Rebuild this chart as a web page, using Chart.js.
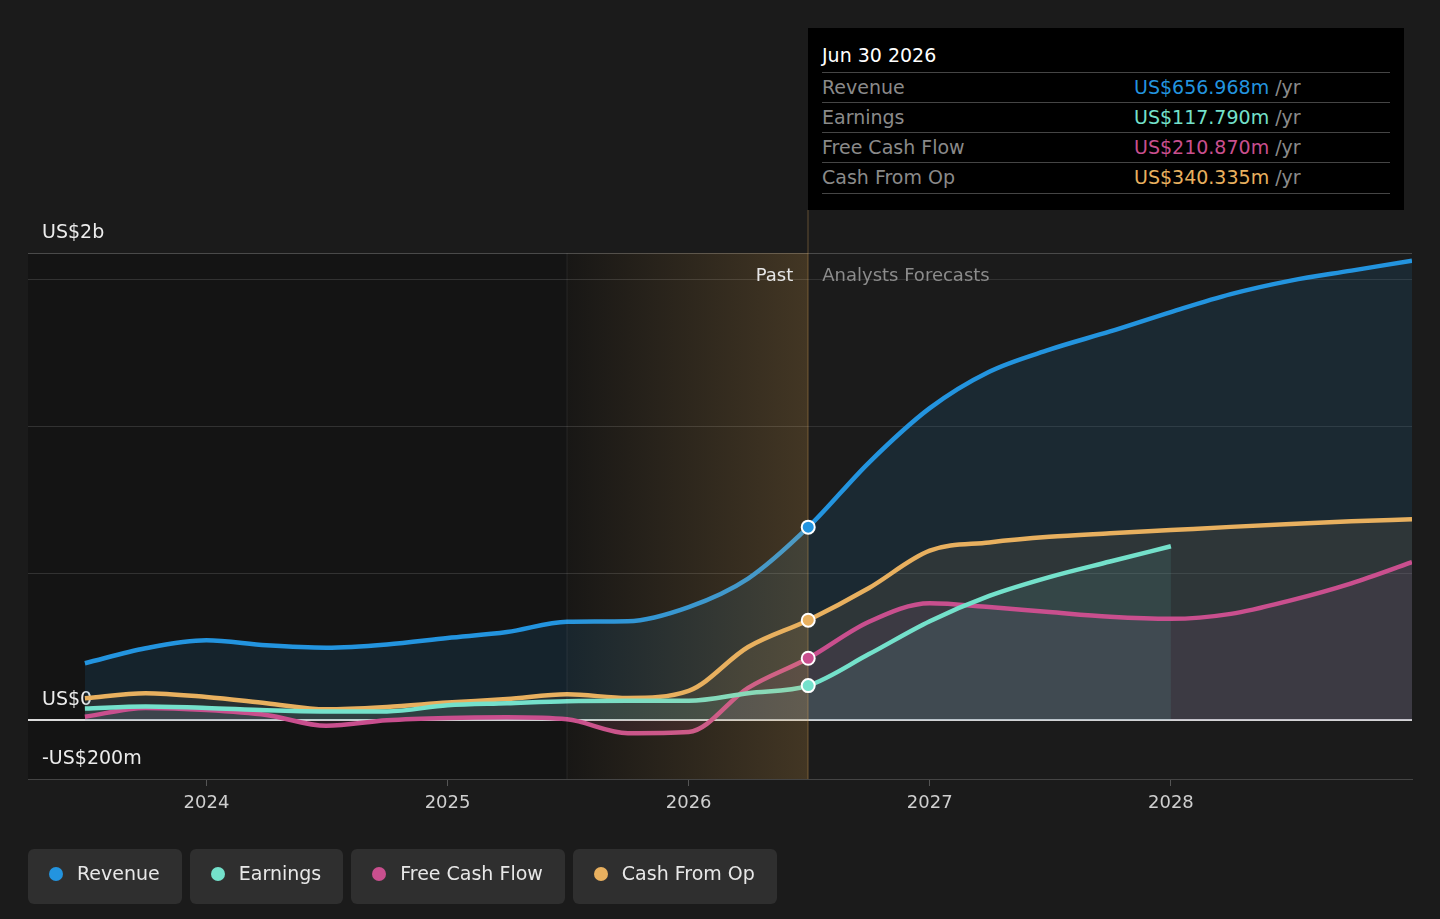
<!DOCTYPE html>
<html lang="en">
<head>
<meta charset="UTF-8">
<meta name="viewport" content="width=device-width, initial-scale=1.0">
<title>Revenue, Earnings and Cash Flow</title>
<script src="https://cdn.jsdelivr.net/npm/chart.js"></script>
<style>
  body { margin: 0; background: #1b1b1b; font-family: "DejaVu Sans", sans-serif; }
  #wrap { position: relative; width: 1440px; height: 919px; overflow: hidden; }
  #chart { position: absolute; left: 0; top: 0; }
  .tip { position: absolute; left: 808px; top: 28px; width: 596px; height: 182px; background: #000; }
  .tip .title { position: absolute; left: 14px; top: 16px; color: #fff; font-size: 19px; }
  .tip .row { position: absolute; left: 14px; width: 568px; height: 30px; border-top: 1px solid #454545; font-size: 19px; line-height: 28px; }
  .tip .row.last { border-bottom: 1px solid #454545; }
  .tip .lab { position: absolute; left: 0; color: #8a8a8a; }
  .tip .val { position: absolute; left: 312px; }
  .tip .unit { color: #8a8a8a; }
  .legend { position: absolute; left: 28px; top: 849px; display: flex; gap: 8px; }
  .legend .item { box-sizing: border-box; height: 55px; background: #2f2f2f; border-radius: 6px; display: flex; align-items: center; padding: 0 22px 7px 21px; color: #e8e8e8; font-size: 19px; }
  .legend .dot { width: 14px; height: 14px; border-radius: 50%; margin-right: 14px; margin-top: 1px; }
</style>
</head>
<body>
<div id="wrap">
  <canvas id="chart" width="1440" height="919"></canvas>
  <div class="tip" id="tip"></div>
  <div class="legend" id="legend"></div>
</div>
<script>
// quarter ends, past data then analyst forecasts (US$ m)
const dates = ['2023-06-30', '2023-09-30', '2023-12-31', '2024-03-31', '2024-06-30', '2024-09-30',
  '2024-12-31', '2025-03-31', '2025-06-30', '2025-09-30', '2025-12-31', '2026-03-31', '2026-06-30',
  '2026-09-30', '2026-12-31', '2027-03-31', '2027-06-30', '2027-09-30', '2027-12-31', '2028-03-31',
  '2028-06-30', '2028-09-30', '2028-12-31'];
const revenue = [194, 245, 272, 255, 247, 258, 280, 300, 335, 337, 385, 482, 656.968,
  877, 1062, 1186, 1261, 1323, 1389, 1450, 1496, 1530, 1564];
const earnings = [40, 47, 42, 34, 30, 30, 51, 58, 65, 66, 66, 92, 117.79,
  225, 337, 423, 487, 540, 592];
const freeCashFlow = [12, 42, 35, 18, -19, 0, 8, 10, 3, -44, -40, 110, 210.87,
  335, 398, 385, 368, 352, 345, 362, 408, 466, 538];
const cashFromOp = [75, 92, 79, 58, 37, 45, 60, 72, 88, 76, 100, 249, 340.335,
  450, 577, 605, 624, 636, 647, 658, 668, 677, 684];

const seriesNames = ['Revenue', 'Earnings', 'Free Cash Flow', 'Cash From Op'];
const seriesColors = ['#2394df', '#74e1cb', '#c94f8e', '#e8b05f'];
const fillColors = ['rgba(35,148,223,0.12)', 'rgba(116,225,203,0.10)', 'rgba(201,79,142,0.11)', 'rgba(232,176,95,0.10)'];

const nowDate = '2026-06-30';
const bandStart = '2025-06-30';
const xMin = 2023.26, xMax = 2029.0;
const xTickValues = [2024, 2025, 2026, 2027, 2028];
const yTickValues = [-200, 0, 500, 1000, 1500, 1590];
const yTickLabels = ['-US$200m', 'US$0', '', '', '', 'US$2b'];

const FONT = '"DejaVu Sans", sans-serif';

function toYear(s) {
  const [y, m, d] = s.split('-').map(Number);
  const start = Date.UTC(y, 0, 1);
  const days = (Date.UTC(y + 1, 0, 1) - start) / 86400000;
  const doy = (Date.UTC(y, m - 1, d) - start) / 86400000 + 1;
  return y + doy / days;
}

const xs = dates.map(toYear);
const nowX = toYear(nowDate);
const nowIdx = dates.indexOf(nowDate);
const allSeries = [revenue, earnings, freeCashFlow, cashFromOp];

const datasets = allSeries.map((vals, i) => ({
  label: seriesNames[i],
  data: vals.map((v, j) => ({ x: xs[j], y: v })),
  borderColor: seriesColors[i],
  backgroundColor: fillColors[i],
  borderWidth: 4.5,
  fill: 'origin',
  pointRadius: 0,
  cubicInterpolationMode: 'monotone',
  order: i + 1
}));

datasets.push({
  label: 'now',
  data: allSeries.map(vals => ({ x: nowX, y: vals[nowIdx] })),
  showLine: false,
  pointRadius: 6.5,
  pointBorderWidth: 2,
  pointBorderColor: '#ffffff',
  pointBackgroundColor: seriesColors,
  order: 0
});

const backdrop = {
  id: 'backdrop',
  beforeDraw(chart) {
    const { ctx, chartArea: a, scales: { x } } = chart;
    const xd = x.getPixelForValue(nowX);
    ctx.save();
    ctx.fillStyle = '#1b1b1b';
    ctx.fillRect(0, 0, chart.width, chart.height);
    ctx.fillStyle = '#141414';
    ctx.fillRect(a.left, a.top, xd - a.left, a.bottom - a.top);
    ctx.restore();
  },
  afterDatasetDraw(chart, args) {
    if (args.index !== 0) return;
    const { ctx, chartArea: a, scales: { x } } = chart;
    const x0 = x.getPixelForValue(toYear(bandStart));
    const x1 = x.getPixelForValue(nowX);
    ctx.save();
    const g = ctx.createLinearGradient(x0, 0, x1, 0);
    g.addColorStop(0, 'rgba(232,176,92,0.02)');
    g.addColorStop(1, 'rgba(232,176,92,0.22)');
    ctx.fillStyle = g;
    ctx.fillRect(x0, a.top, x1 - x0, a.bottom - a.top);
    ctx.fillStyle = 'rgba(255,255,255,0.07)';
    ctx.fillRect(Math.round(x0) - 0.5, a.top, 1, a.bottom - a.top);
    ctx.fillStyle = 'rgba(232,176,92,0.35)';
    ctx.fillRect(Math.round(x1) - 0.5, 210, 1, a.bottom - 210);
    ctx.restore();
  },
  afterDraw(chart) {
    const { ctx, scales: { x } } = chart;
    const xd = x.getPixelForValue(nowX);
    ctx.save();
    ctx.font = '18px ' + FONT;
    ctx.textBaseline = 'alphabetic';
    ctx.textAlign = 'right';
    ctx.fillStyle = '#e6e6e6';
    ctx.fillText('Past', xd - 15, 281);
    ctx.textAlign = 'left';
    ctx.fillStyle = '#8c8c8c';
    ctx.fillText('Analysts Forecasts', xd + 14, 281);
    ctx.restore();
  }
};

new Chart(document.getElementById('chart'), {
  type: 'line',
  data: { datasets },
  options: {
    responsive: false,
    animation: false,
    events: [],
    layout: { padding: { left: 28, right: 28, top: 253, bottom: 0 } },
    plugins: {
      legend: { display: false },
      tooltip: { enabled: false },
      filler: { drawTime: 'beforeDatasetsDraw' }
    },
    scales: {
      x: {
        type: 'linear',
        min: xMin,
        max: xMax,
        afterBuildTicks: s => { s.ticks = xTickValues.map(v => ({ value: v })); },
        afterFit: s => { s.height = 140; },
        grid: { drawOnChartArea: false, drawTicks: true, tickLength: 7, color: '#555' },
        border: { color: '#444' },
        ticks: {
          color: '#cfcfcf',
          font: { family: FONT, size: 18 },
          padding: 7,
          maxRotation: 0,
          autoSkip: false,
          callback: v => String(v)
        }
      },
      y: {
        min: -200,
        max: 1590,
        afterBuildTicks: s => { s.ticks = yTickValues.map(v => ({ value: v })); },
        afterFit: s => { s.width = 0; },
        grid: {
          drawTicks: false,
          color: c => c.tick.value === 0 ? '#dcdcdc' : (c.tick.value === 1590 ? '#4a4a4a' : (c.tick.value === -200 ? '#444' : '#323232')),
          lineWidth: c => c.tick.value === 0 ? 2 : 1
        },
        border: { display: false },
        ticks: {
          mirror: true,
          padding: 14,
          labelOffset: -20,
          color: '#ececec',
          font: { family: FONT, size: 19 },
          callback: v => yTickLabels[yTickValues.indexOf(v)] || ''
        }
      }
    }
  },
  plugins: [backdrop]
});

// tooltip box for the latest reported point
const tip = document.getElementById('tip');
let html = '<div class="title">Jun 30 2026</div>';
allSeries.forEach((vals, i) => {
  const last = i === allSeries.length - 1 ? ' last' : '';
  html += '<div class="row' + last + '" style="top:' + (44 + i * 30) + 'px">' +
    '<span class="lab">' + seriesNames[i] + '</span>' +
    '<span class="val"><span style="color:' + seriesColors[i] + '">US$' + vals[nowIdx].toFixed(3) + 'm</span>' +
    '<span class="unit"> /yr</span></span></div>';
});
tip.innerHTML = html;

const legend = document.getElementById('legend');
legend.innerHTML = seriesNames.map((n, i) =>
  '<div class="item"><span class="dot" style="background:' + seriesColors[i] + '"></span>' + n + '</div>').join('');
</script>
</body>
</html>
